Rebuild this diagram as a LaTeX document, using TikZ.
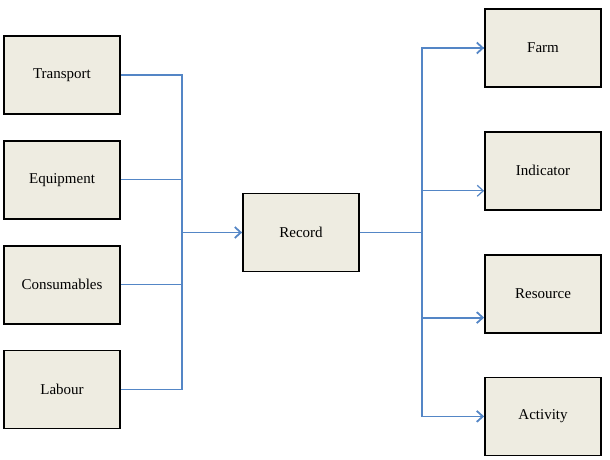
\documentclass[tikz,border=0pt]{standalone}
\usepackage{fontspec}
\setmainfont{Liberation Serif}
\definecolor{linkBlue}{RGB}{84,134,198}
\definecolor{boxFill}{RGB}{238,236,225}
\usetikzlibrary{positioning,arrows.meta}

\begin{document}
\begin{tikzpicture}[
  x=1pt, y=1pt,
  node distance=25pt,
  box/.style={
    draw=black, fill=boxFill, line width=1.8pt, inner sep=0pt,
    minimum width=116pt, minimum height=78pt, font=\fontsize{15}{17}\selectfont
  },
  link/.style={draw=linkBlue, line width=1.2pt},
  arr/.style={link, line width=1.8pt, -{Straight Barb[length=6pt,width=11pt]}}
]
  \useasboundingbox (0,0) rectangle (610,459);
  % inputs
  \node[box] (trans) at (62,384) {Transport};
  \node[box, below=of trans] (equip) {Equipment};
  \node[box, below=of equip] (cons) {Consumables};
  \node[box, below=of cons] (lab) {Labour};
  % record
  \node[box] (rec) at (301,226.5) {Record};
  % outputs
  \node[box] (farm) at (543,411) {Farm};
  \node[box, below=43pt of farm] (indic) {Indicator};
  \node[box, below=43pt of indic] (res) {Resource};
  \node[box, below=43pt of res] (act) {Activity};
  \coordinate (inbus) at (182,226.5);
  \coordinate (outbus) at (422,226.5);
  \draw[link] (trans.east) -| (inbus);
  \draw[link] (lab.east) -| (inbus);
  \draw[link] (equip.east) -- (equip.east -| inbus);
  \draw[link] (cons.east) -- (cons.east -| inbus);
  \draw[arr] (inbus) -- (rec.west);
  \draw[link] (rec.east) -- (outbus);
  \draw[link] (outbus) |- (farm.west);
  \draw[link] (outbus) |- (act.west);
  \draw[arr] (outbus |- farm.west) -- (farm.west);
  \draw[arr, line width=1.2pt] ([yshift=-20pt]indic.west -| outbus) -- ([yshift=-20pt]indic.west);
  \draw[arr] ([yshift=-24pt]res.west -| outbus) -- ([yshift=-24pt]res.west);
  \draw[arr] (outbus |- act.west) -- (act.west);
\end{tikzpicture}
\end{document}
